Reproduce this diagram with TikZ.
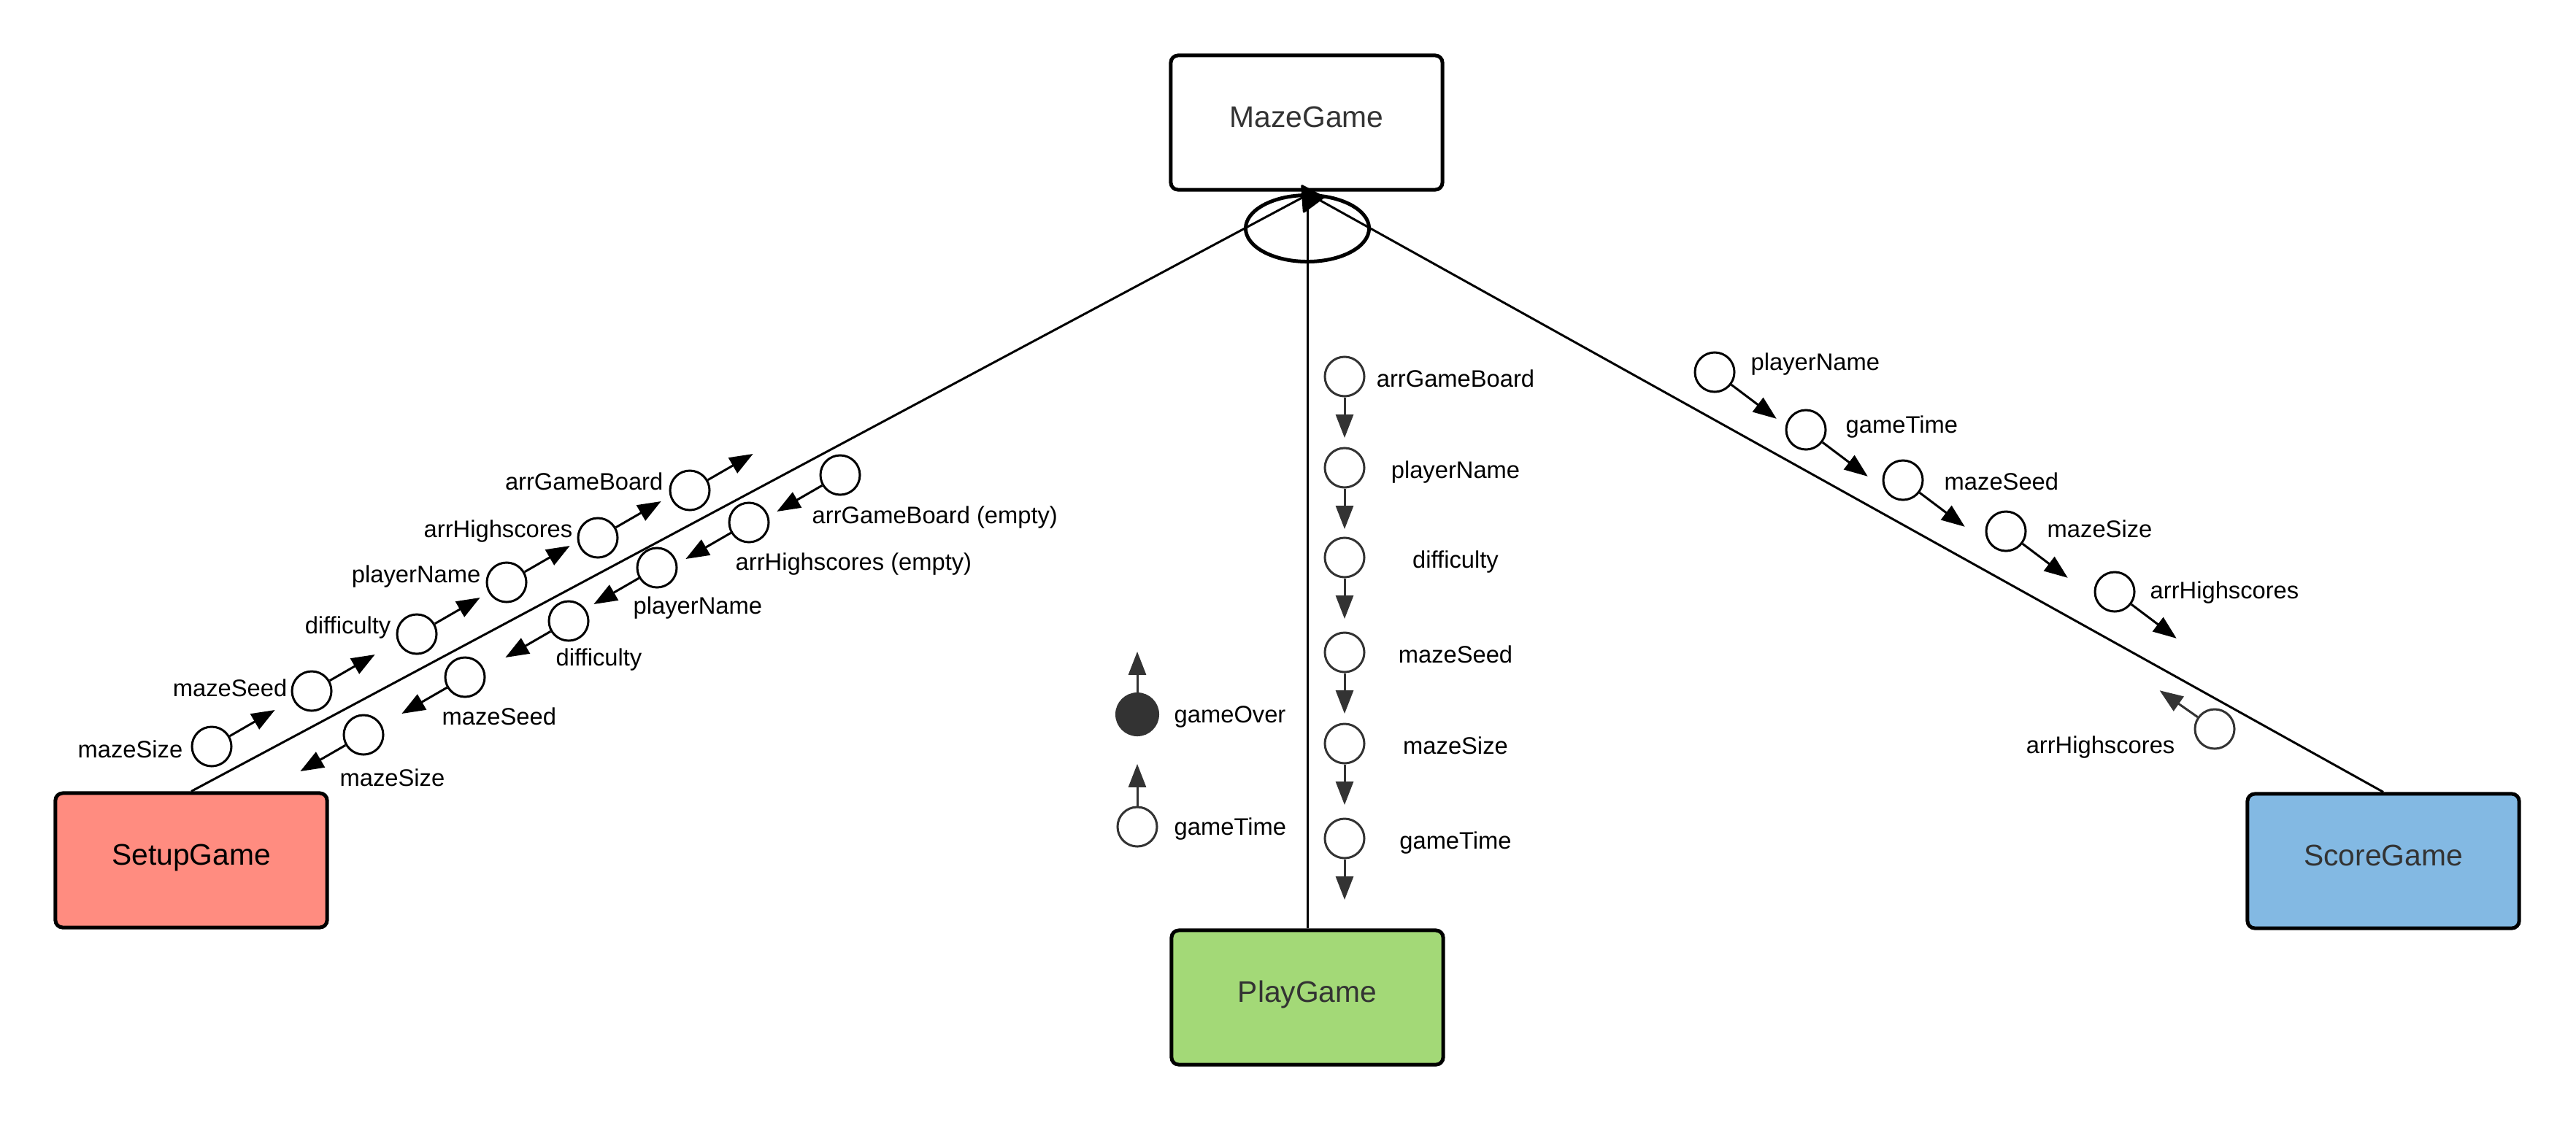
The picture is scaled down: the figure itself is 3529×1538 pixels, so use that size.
\documentclass[tikz,border=0pt]{standalone}
\usepackage{fontspec}
\setmainfont{Liberation Sans}
\usetikzlibrary{arrows.meta,shapes.geometric,calc}
\definecolor{setupc}{HTML}{FF8C80}
\definecolor{playc}{HTML}{A3D977}
\definecolor{scorec}{HTML}{83B9E3}
\definecolor{dk}{HTML}{333333}
\begin{document}
\begin{tikzpicture}[x=0.01cm,y=-0.01cm,
  box/.style={draw=black, line width=0.05cm, rounded corners=0.1cm, minimum width=3.72cm, minimum height=1.84cm, inner sep=0, text height=0.29cm, text depth=0.16cm, font=\fontsize{11.6}{13}\selectfont, text=dk},
  conn/.style={line width=0.03cm},
  pin/.style={circle, draw=black, line width=0.03cm, minimum size=0.54cm, inner sep=0},
  pind/.style={pin, draw=dk},
  lbl/.style={inner sep=0, font=\fontsize{9.3}{11}\selectfont},
  flow/.style={line width=0.03cm, -{Triangle[length=0.32cm,width=0.24cm]}},
  flowd/.style={flow, draw=dk, color=dk}
]
\useasboundingbox (0,0) rectangle (3529,1538);

% main boxes
\node[box] (maze) at (1790,168) {MazeGame};
\node[box, fill=setupc, text=black] (setup) at (262,1179) {SetupGame};
\node[box, fill=playc] (play) at (1791,1367) {PlayGame};
\node[box, fill=scorec] (score) at (3265,1180) {ScoreGame};

% connectors
\coordinate (J) at (1793,266);
\draw[conn] (setup.north) -- (J);
\draw[conn] (score.north) -- (J);
\draw[conn] (play.north) -- (play.north |- J);
\node[ellipse, draw, line width=0.05cm, minimum width=1.69cm, minimum height=0.91cm, inner sep=0] (agg) at (1791,313) {};
\fill[rounded corners=0.03cm] (1782,252) -- (1816,270) -- (1785,293) -- cycle;

% SetupGame outgoing (up-right)
\foreach \n/\x/\y/\lx/\ly/\t in {
  su1/290/1023/251/1038/mazeSize,
  su2/427/947/394/954/mazeSeed,
  su3/571/869/536/868/difficulty,
  su4/694/798/659/798/playerName,
  su5/819/737/785/736/arrHighscores,
  su6/945/672/909/671/arrGameBoard}{
  \node[pin] (\n) at (\x,\y) {};
  \node[lbl, anchor=base east] (l\n) at (\lx,\ly) {\t};
  \draw[flow] (\n.30) -- ($(\n)+(30:1cm)$);
}

% SetupGame incoming (down-left)
\foreach \n/\x/\y/\lx/\ly/\t in {
  sl1/1151/651/1112/717/{arrGameBoard (empty)},
  sl2/1026/716/1007/781/{arrHighscores (empty)},
  sl3/900/778/867/841/playerName,
  sl4/779/851/761/912/difficulty,
  sl5/637/928/605/993/mazeSeed,
  sl6/498/1007/465/1077/mazeSize}{
  \node[pin] (\n) at (\x,\y) {};
  \node[lbl, anchor=base west] (l\n) at (\lx,\ly) {\t};
  \draw[flow] (\n.210) -- ($(\n)+(210:1cm)$);
}

% PlayGame column
\foreach \n/\y/\t in {
  pc1/516/arrGameBoard,
  pc2/641/playerName,
  pc3/764/difficulty,
  pc4/894/mazeSeed,
  pc5/1019/mazeSize,
  pc6/1149/gameTime}{
  \node[pind] (\n) at (1842,\y) {};
  \node[lbl, anchor=base] (l\n) at (1994,\y+14) {\t};
  \draw[flowd] (\n.south) -- ($(\n)+(0cm,-0.84cm)$);
}

% PlayGame outputs
\node[pind, fill=dk, minimum size=0.57cm] (go) at (1558,979) {};
\node[lbl, anchor=base west] (lgo) at (1608,990) {gameOver};
\draw[flowd] (go.north) -- ($(go)+(0cm,0.86cm)$);
\node[pind] (gt) at (1558,1133) {};
\node[lbl, anchor=base west] (lgt) at (1608,1144) {gameTime};
\draw[flowd] (gt.north) -- ($(gt)+(0cm,0.86cm)$);

% ScoreGame incoming
\foreach \n/\x/\y/\lx/\ly/\t in {
  sc1/2349/510/2398/507/playerName,
  sc2/2474/589/2528/593/gameTime,
  sc3/2607/658/2663/671/mazeSeed,
  sc4/2748/728/2804/736/mazeSize,
  sc5/2897/811/2945/820/arrHighscores}{
  \node[pin] (\n) at (\x,\y) {};
  \node[lbl, anchor=base west] (l\n) at (\lx,\ly) {\t};
  \draw[flow] (\n.-37) -- ($(\n)+(-37:1.06cm)$);
}

% ScoreGame output
\node[pind] (sb) at (3034,999) {};
\node[lbl, anchor=base east] (lsb) at (2980,1032) {arrHighscores};
\draw[flowd] (sb.145) -- ($(sb)+(145:0.92cm)$);
\end{tikzpicture}
\end{document}
